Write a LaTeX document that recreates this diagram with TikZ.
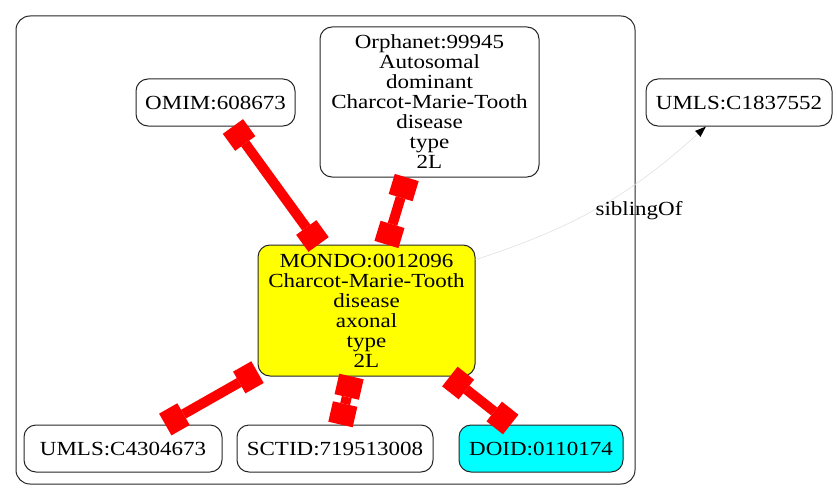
\documentclass[tikz,border=0pt]{standalone}
\usepackage{fontspec}
\setmainfont{Liberation Serif}[FakeStretch=1.15]
\usetikzlibrary{arrows.meta}
\definecolor{gvyellow}{RGB}{255,255,0}
\definecolor{gvcyan}{RGB}{0,255,255}
\definecolor{gvred}{RGB}{255,0,0}
\begin{document}
\begin{tikzpicture}[x=1pt,y=-1pt,
  nd/.style={draw=black!85, line width=1pt, rounded corners=12pt, align=center,
    inner sep=0pt, font=\fontsize{20}{20}\selectfont},
  boxtip/.tip={Rectangle[length=21pt,width=25pt,line width=0pt]},
  rel/.style={draw=gvred, line width=10pt, boxtip-boxtip},
  sib/.style={draw=black!12, line width=0.6pt, -{Triangle[length=11pt,width=8pt,line width=0pt,black]}},
  lbl/.style={font=\fontsize{20}{20}\selectfont, inner sep=0pt}]
\useasboundingbox (0,0) rectangle (837,500);
\draw[draw=black!85, line width=1pt, rounded corners=14pt] (16,16) rectangle (635,484);

\node[nd, minimum width=159pt, minimum height=47pt] (omim) at (215.5,102.5) {OMIM:608673};
\node[nd, minimum width=219pt, minimum height=150pt] (orph) at (429.5,102) {Orphanet:99945\\Autosomal\\dominant\\Charcot-Marie-Tooth\\disease\\type\\2L};
\node[nd, minimum width=186pt, minimum height=47pt] (umlsb) at (739,102.5) {UMLS:C1837552};
\node[nd, fill=gvyellow, minimum width=217pt, minimum height=131pt] (mondo) at (366.5,310.5) {MONDO:0012096\\Charcot-Marie-Tooth\\disease\\axonal\\type\\2L};
\node[nd, minimum width=198pt, minimum height=47pt] (umlsa) at (123,448.5) {UMLS:C4304673};
\node[nd, minimum width=196pt, minimum height=47pt] (sctid) at (335,448.5) {SCTID:719513008};
\node[nd, fill=gvcyan, minimum width=164pt, minimum height=47pt] (doid) at (541,448.5) {DOID:0110174};

\draw[rel] (omim) -- (mondo);
\draw[rel] (orph) -- (mondo);
\draw[rel] (mondo) -- (umlsa);
\draw[rel] (mondo) -- (sctid);
\draw[rel] (mondo) -- (doid);

\draw[sib] (mondo.25) to[bend right=12] (umlsb.216);
\node[lbl] (siblbl) at (639,211) {siblingOf};
\end{tikzpicture}
\end{document}
